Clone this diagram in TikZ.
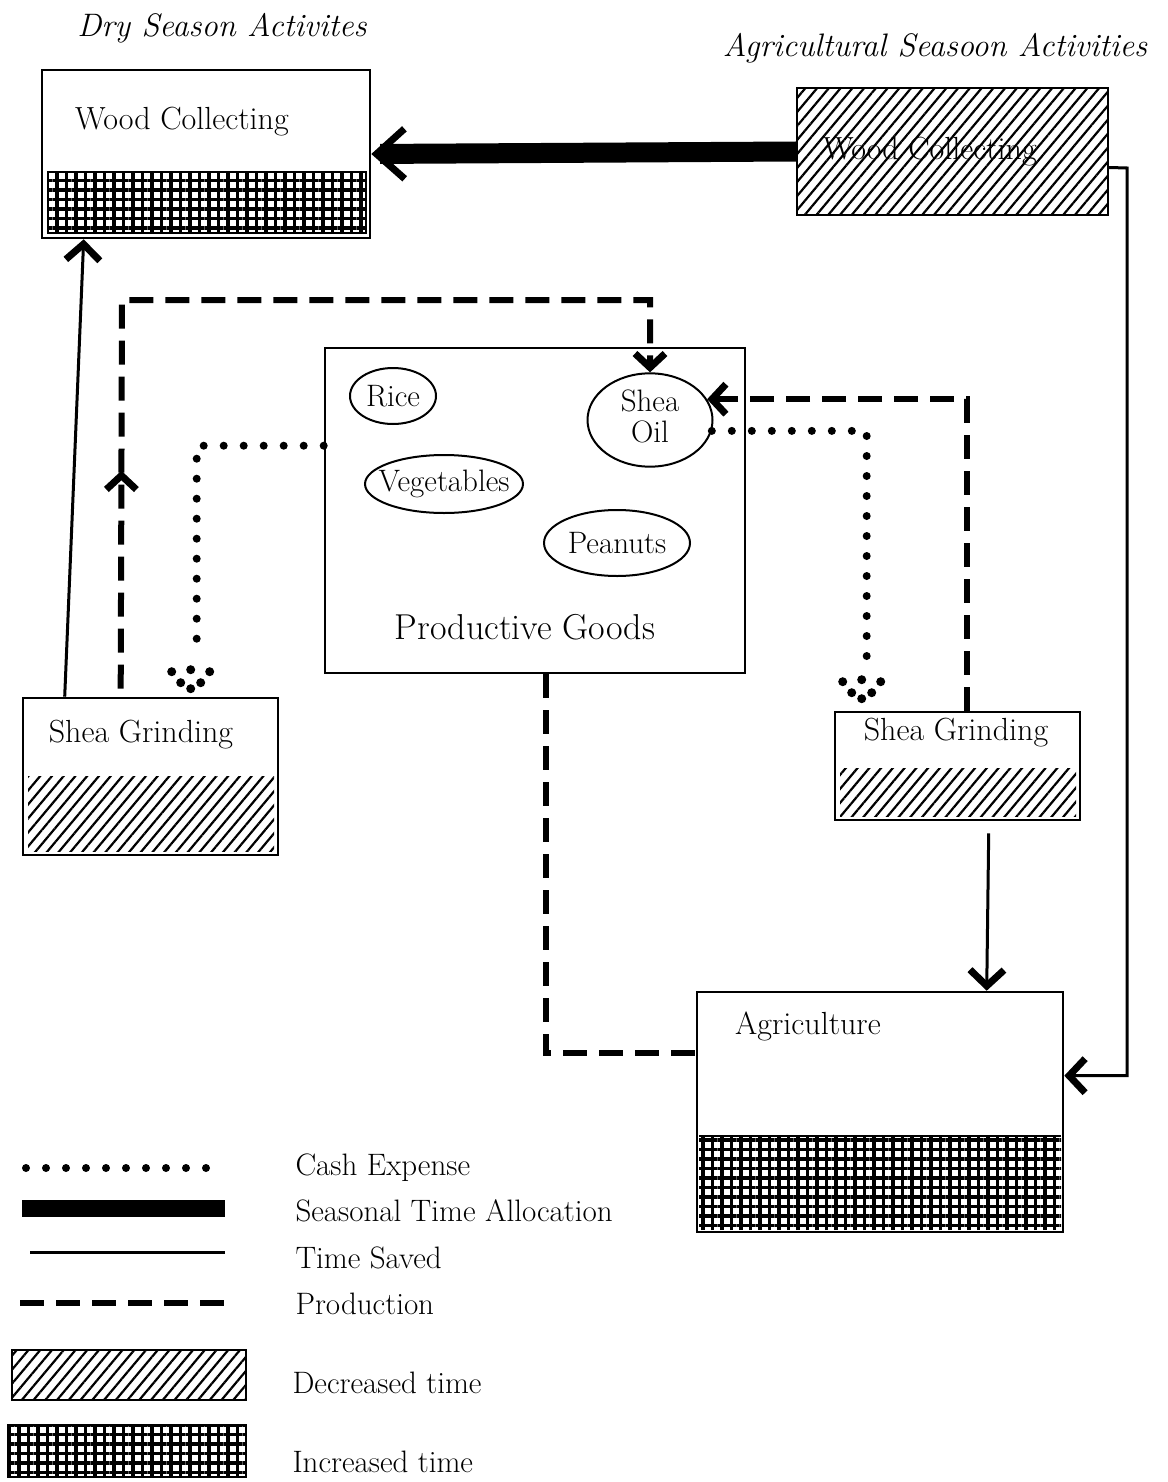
\documentclass[tikz,border=0pt]{standalone}
\usepackage{fontspec}
\usetikzlibrary{arrows.meta,patterns.meta,calc,decorations.markings,shapes.geometric}
\begin{document}
\begin{tikzpicture}[x=1pt,y=-1pt,
  box/.style={draw,line width=2.6pt,inner sep=0pt},
  lbl/.style={font=\fontsize{32}{38}\selectfont},
  leg/.style={font=\fontsize{31}{36}\selectfont,anchor=west},
  ital/.style={font=\itshape\fontsize{32.5}{38}\selectfont},
  ell/.style={draw,ellipse,line width=2pt,inner sep=0pt,font=\fontsize{31}{35}\selectfont},
  timesaved/.style={line width=3pt},
  seasonal/.style={line width=20pt},
  production/.style={line width=6pt,dash pattern=on 24pt off 12pt},
  cash/.style={line width=8pt,line cap=round,dash pattern=on 0pt off 20pt},
  barb/.style={-{Straight Barb[length=16pt,width=34pt,line width=7pt]}},
  pbarb/.style={-{Straight Barb[length=14pt,width=30pt,line width=7pt]}},
  decr/.style={pattern={Lines[angle=50,distance=9pt,line width=2.2pt]}},
  incr/.style={pattern={Hatch[angle=0,distance=9.5pt,line width=3.3pt]}},
  dothead/.pic={\foreach \p in {(-19,-17),(0,-19),(19,-17),(-10,-6),(10,-6),(0,0)} \fill \p circle (4.5pt);}
]
\useasboundingbox (0,0) rectangle (1167,1482);

% titles
\node[ital] (t1) at (222,28) {Dry Season Activites};
\node[ital] (t2) at (935,48) {Agricultural Seasoon Activities};

% Wood collecting (dry season)
\node[box,minimum width=328pt,minimum height=168pt] (wcL) at (206,154) {};
\draw[line width=1.5pt,incr] (48,172) rectangle (366,233);
\node[lbl] (wcLt) at (182,122) {Wood Collecting};

% Wood collecting (agricultural season)
\node[box,decr,minimum width=311pt,minimum height=127pt] (wcR) at (952.5,151.5) {};
\node[lbl] (wcRt) at (930,152) {Wood Collecting};

% Productive goods
\node[box,minimum width=420pt,minimum height=325pt] (pg) at (535,510.5) {};
\node[font=\fontsize{36}{42}\selectfont] (pgt) at (525,627) {Productive Goods};
\node[ell,minimum width=86pt,minimum height=56pt] (rice) at (393,396) {\makebox[0pt]{Rice}};
\node[ell,minimum width=125pt,minimum height=88pt] (oil) at (650,420) {\makebox[0pt]{\begin{tabular}{@{}c@{}}Shea\\[-4pt]Oil\end{tabular}}};
\node[ell,minimum width=158pt,minimum height=58pt] (veg) at (444,484) {\makebox[0pt]{Vegetables}};
\node[ell,minimum width=146pt,minimum height=66pt] (pea) at (617,543) {\makebox[0pt]{Peanuts}};

% Shea grinding (left)
\node[box,minimum width=255pt,minimum height=157pt] (sgL) at (150.5,776.5) {};
\path[decr] (28,776) rectangle (274,851);
\node[lbl] (sgLt) at (141,735) {Shea Grinding};

% Shea grinding (right)
\node[box,minimum width=245pt,minimum height=108pt] (sgR) at (957.5,766) {};
\path[decr] (840,768) rectangle (1076,816);
\node[lbl] (sgRt) at (956,733) {Shea Grinding};

% Agriculture
\node[box,minimum width=366pt,minimum height=240pt] (ag) at (880,1112) {};
\path[incr] (699,1136) rectangle (1061,1230);
\draw[line width=2pt] (699,1136) -- (1061,1136);
\node[lbl] (agt) at (808,1026) {Agriculture};

% connectors
\draw[seasonal,-{Straight Barb[length=28pt,width=50pt,line width=7pt]}] (wcR.west) -- (wcL.east);
\draw[timesaved,barb] ($(wcR.east)+(0,16)$) -- (1127,168) |- ($(ag.north east)+(0,85)$);
\draw[timesaved,barb] ($(sgL.north west)+(43,0)$) -- ($(wcL.south west)+(43,0)$);
\draw[timesaved,barb] ($(sgR.south west)+(155,12)$) -- ($(ag.north west)+(291,0)$);

\draw[production,pbarb,
  postaction={decorate,decoration={markings,mark=at position 218pt with {\arrow{Straight Barb[length=14pt,width=30pt,line width=7pt]}}}}]
  ($(sgL.north west)+(99,-8)$) -- (122,300) -| (oil.north);
\draw[production,pbarb]
  ($(sgR.north west)+(133,0)$) |- (oil.20);
\draw[production] ($(pg.south west)+(222,0)$) |- ($(ag.north west)+(0,62)$);

\draw[cash] ($(pg.north west)+(0,99)$) -| ($(sgL.north west)+(175,-51)$);
\pic at ($(sgL.north west)+(169,-8)$) {dothead};
\draw[cash] (oil.-10) -| ($(sgR.north west)+(33,-52)$);
\pic at ($(sgR.north west)+(28,-12)$) {dothead};

% legend
\coordinate (l1a) at (26,1168); \coordinate (l1b) at (226,1168);
\draw[cash] (l1a) -- (l1b);
\coordinate (l2a) at (22,1208); \coordinate (l2b) at (225,1208);
\draw[line width=17pt] (l2a) -- (l2b);
\coordinate (l3a) at (30,1252); \coordinate (l3b) at (225,1252);
\draw[timesaved] (l3a) -- (l3b);
\coordinate (l4a) at (20,1303); \coordinate (l4b) at (230,1303);
\draw[production] (l4a) -- (l4b);
\draw[line width=1.8pt,decr] (12,1350) rectangle (246,1400);
\draw[line width=1.8pt,incr] (8,1425) rectangle (246,1477);

\node[leg] (lg1) at (292,1168) {Cash Expense};
\node[leg] (lg2) at (292,1211) {Seasonal Time Allocation};
\node[leg] (lg3) at (292,1258) {Time Saved};
\node[leg] (lg4) at (292,1304) {Production};
\node[leg] (lg5) at (289,1383) {Decreased time};
\node[leg] (lg6) at (289,1462) {Increased time};
\end{tikzpicture}
\end{document}
